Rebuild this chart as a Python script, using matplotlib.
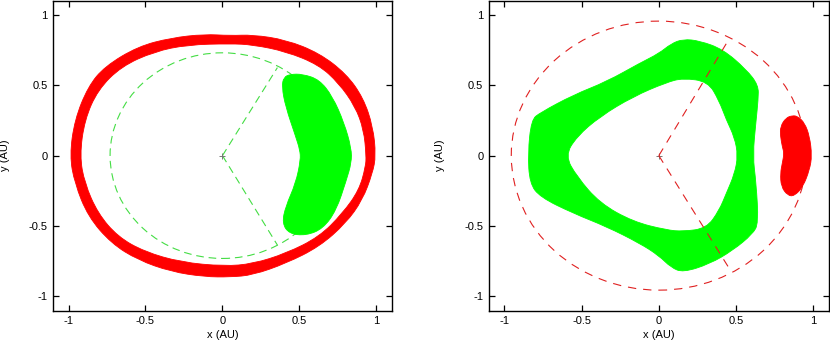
import matplotlib
matplotlib.use('Agg')
import matplotlib.pyplot as plt
from matplotlib.path import Path
from matplotlib.patches import PathPatch, Circle

plt.rcParams['font.family'] = ['Liberation Sans', 'DejaVu Sans']
plt.rcParams['lines.scale_dashes'] = False

# ---- left panel: red ring (outer / inner edge) ----
ring_outer = [(0.997, 0.0), (0.978, 0.206), (0.915, 0.41), (0.805, 0.58), (0.629, 0.728),
              (0.413, 0.822), (0.197, 0.858), (0.05, 0.852), (-0.117, 0.862), (-0.333, 0.836),
              (-0.549, 0.775), (-0.765, 0.633), (-0.873, 0.49), (-0.96, 0.254), (-0.992, 0.0),
              (-0.96, -0.196), (-0.873, -0.433), (-0.722, -0.623), (-0.549, -0.741),
              (-0.333, -0.824), (-0.117, -0.86), (0.05, -0.862), (0.197, -0.848),
              (0.413, -0.765), (0.629, -0.647), (0.802, -0.48), (0.910, -0.315), (0.975, -0.125)]
ring_inner = [(0.934, 0.0), (0.918, 0.183), (0.862, 0.35), (0.755, 0.515), (0.625, 0.645),
              (0.413, 0.739), (0.197, 0.787), (0.05, 0.795), (-0.225, 0.787), (-0.441, 0.739),
              (-0.657, 0.633), (-0.809, 0.467), (-0.895, 0.254), (-0.927, 0.0), (-0.895, -0.196),
              (-0.809, -0.41), (-0.679, -0.576), (-0.506, -0.682), (-0.268, -0.757),
              (0.013, -0.785), (0.197, -0.768), (0.413, -0.694), (0.629, -0.576),
              (0.78, -0.41), (0.888, -0.244), (0.93, -0.078)]

# left panel: green crescent
crescent = [(0.44, 0.578), (0.52, 0.579), (0.629, 0.54), (0.715, 0.421), (0.791, 0.232),
            (0.838, 0.05), (0.838, -0.05), (0.805, -0.175), (0.74, -0.388), (0.653, -0.519),
            (0.543, -0.567), (0.434, -0.555), (0.388, -0.48), (0.41, -0.362), (0.476, -0.196),
            (0.508, -0.03), (0.503, 0.04), (0.476, 0.135), (0.41, 0.348), (0.386, 0.49),
            (0.398, 0.556)]

left_radius = 0.73
left_rays = [(0.357, 0.625), (0.357, -0.635)]

# ---- right panel: green band ----
band_outer = [(0.608, 0.0), (0.63, 0.254), (0.643, 0.396), (0.645, 0.5), (0.566, 0.612),
              (0.415, 0.755), (0.265, 0.815), (0.157, 0.827), (0.08, 0.795), (0.0, 0.725),
              (-0.123, 0.657), (-0.337, 0.526), (-0.553, 0.431), (-0.768, 0.305),
              (-0.825, 0.254), (-0.847, 0.017), (-0.836, -0.196), (-0.768, -0.295),
              (-0.553, -0.41), (-0.337, -0.505), (-0.123, -0.623), (0.0, -0.71),
              (0.08, -0.795), (0.157, -0.829), (0.329, -0.769), (0.479, -0.673),
              (0.608, -0.556), (0.645, -0.48), (0.63, -0.196)]
band_inner = [(0.512, 0.0), (0.49, 0.13), (0.437, 0.254), (0.39, 0.39), (0.318, 0.526),
              (0.157, 0.55), (0.05, 0.52), (-0.166, 0.419), (-0.381, 0.277), (-0.531, 0.135),
              (-0.606, 0.0), (-0.53, -0.149), (-0.381, -0.338), (-0.166, -0.469),
              (0.05, -0.528), (0.157, -0.538), (0.308, -0.516), (0.39, -0.39),
              (0.437, -0.267), (0.49, -0.13)]

# right panel: red blob
blob = [(0.991, 0.0), (0.976, 0.137), (0.944, 0.232), (0.90, 0.278), (0.866, 0.285),
        (0.822, 0.268), (0.787, 0.206), (0.787, 0.14), (0.80, 0.06), (0.811, 0.017),
        (0.80, -0.05), (0.787, -0.125), (0.792, -0.22), (0.834, -0.283), (0.877, -0.287),
        (0.933, -0.222), (0.976, -0.10)]

right_radius = 0.955
right_rays = [(0.458, 0.834), (0.469, -0.824)]

ticks = [-1, -0.5, 0, 0.5, 1]
tick_labels = ['-1', '-0.5', '0', '0.5', '1']


def smooth_loop(pts):
    # closed quadratic-bezier path through the listed edge points
    n = len(pts)
    mids = [((pts[i][0] + pts[(i + 1) % n][0]) / 2, (pts[i][1] + pts[(i + 1) % n][1]) / 2)
            for i in range(n)]
    verts = [mids[-1]]
    codes = [Path.MOVETO]
    for i in range(n):
        verts += [pts[i], mids[i]]
        codes += [Path.CURVE3, Path.CURVE3]
    verts.append(mids[-1])
    codes.append(Path.CLOSEPOLY)
    return verts, codes


def shape_patch(outer, color, inner=None, **kw):
    verts, codes = smooth_loop(outer)
    if inner is not None:
        v2, c2 = smooth_loop(inner[::-1])
        verts += v2
        codes += c2
    return PathPatch(Path(verts, codes), facecolor=color, edgecolor=color, lw=0.6, **kw)


def style_axes(ax, ylab_x):
    ax.set_xlim(-1.1, 1.1)
    ax.set_ylim(-1.1, 1.1)
    ax.set_xticks(ticks)
    ax.set_xticklabels(tick_labels)
    ax.set_yticks(ticks)
    ax.set_yticklabels(tick_labels)
    ax.tick_params(direction='in', length=4, width=0.9, top=True, right=True,
                   labelsize=8, pad=4, colors='black')
    for sp in ax.spines.values():
        sp.set_linewidth(1.0)
    ax.set_xlabel('x (AU)', fontsize=8, labelpad=3)
    ax.set_ylabel('y (AU)', fontsize=8)
    ax.yaxis.set_label_coords(ylab_x, 0.5)


fig = plt.figure(figsize=(8.3, 3.47), dpi=100)
ax1 = fig.add_axes([0.064, 0.105, 0.408, 0.893])
ax2 = fig.add_axes([0.589, 0.105, 0.4095, 0.893])

# left panel
ax1.add_patch(shape_patch(ring_outer, '#ff0000', inner=ring_inner))
ax1.add_patch(Circle((0, 0), left_radius, fill=False, edgecolor='#44dd44',
                     lw=0.8, linestyle=(0, (5.5, 3.5))))
for rx, ry in left_rays:
    ax1.plot([0, rx], [0, ry], color='#44dd44', lw=0.8, linestyle=(0, (5.5, 3.5)))
ax1.add_patch(shape_patch(crescent, '#00ff00'))
ax1.plot([0], [0], marker='+', color='#777777', ms=5, mew=0.7)
style_axes(ax1, -0.127)

# right panel
ax2.add_patch(Circle((0, 0), right_radius, fill=False, edgecolor='#e02020',
                     lw=0.8, linestyle=(0, (6, 5))))
ax2.add_patch(shape_patch(band_outer, '#00ff00', inner=band_inner))
for rx, ry in right_rays:
    ax2.plot([0, rx], [0, ry], color='#e02020', lw=0.8, linestyle=(0, (6, 5)), zorder=3)
ax2.add_patch(shape_patch(blob, '#ff0000', zorder=3))
ax2.plot([0], [0], marker='+', color='#777777', ms=5, mew=0.7)
style_axes(ax2, -0.128)

fig.savefig('out.png', dpi=100)
